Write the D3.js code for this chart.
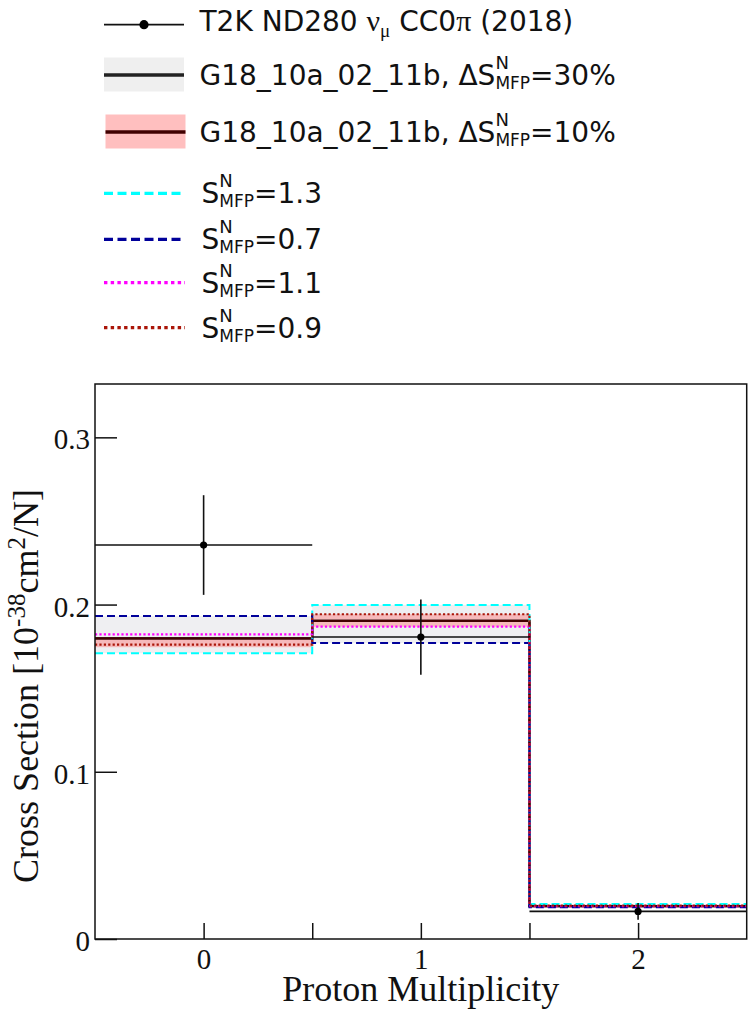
<!DOCTYPE html>
<html>
<head>
<meta charset="utf-8">
<script src="https://cdn.jsdelivr.net/npm/d3@7"></script>
<style>
  body { margin: 0; background: #fff; }
  svg { display: block; }
  text { white-space: pre; }
</style>
</head>
<body>
<div id="chart"></div>
<script>
// bins: proton multiplicity 0, 1, 2
const binEdges = [-0.5, 0.5, 1.5, 2.5];
const binCenters = [0, 1, 2];

// T2K ND280 data
const dataValues = [0.2356, 0.1806, 0.0165];
const dataErrors = [0.0298, 0.0225, 0.0050];

// GENIE G18_10a_02_11b nominal and S_MFP variations
const nominal = [0.1798, 0.1902, 0.0197];
const smfp13 = [0.1709, 0.1998, 0.0209];
const smfp07 = [0.1931, 0.1770, 0.0190];
const smfp11 = [0.1822, 0.1868, 0.0197];
const smfp09 = [0.1760, 0.1942, 0.0199];

// uncertainty bands
const band30Low = [0.1709, 0.1770, 0.0190];
const band30High = [0.1931, 0.1998, 0.0209];
const band10Low = [0.1745, 0.1868, 0.0195];
const band10High = [0.1798, 0.1942, 0.0200];

// axis ticks
const yTicks = [0, 0.1, 0.2, 0.3];
const xTicks = [0, 0.5, 1, 1.5, 2];

const W = 748, H = 1010;
const plot = { left: 95, right: 746.7, top: 384, bottom: 939 };

const svg = d3.select("#chart").append("svg")
    .attr("width", W)
    .attr("height", H);

const x = d3.scaleLinear().domain([-0.5, 2.5]).range([plot.left, plot.right]);
const y = d3.scaleLinear().domain([0, 0.3319]).range([plot.bottom, plot.top]);

// ---- bands ----
function drawBand(low, high, fill) {
    svg.append("g").selectAll("rect")
        .data(binCenters)
        .join("rect")
        .attr("x", (d, i) => x(binEdges[i]))
        .attr("width", (d, i) => x(binEdges[i + 1]) - x(binEdges[i]))
        .attr("y", (d, i) => y(high[i]))
        .attr("height", (d, i) => y(low[i]) - y(high[i]))
        .attr("fill", fill);
}
drawBand(band30Low, band30High, "#efeff2");
drawBand(band10Low, band10High, "#f6b9bb");

// ---- histogram step lines ----
function stepPoints(vals) {
    const pts = [];
    vals.forEach((v, i) => {
        pts.push([binEdges[i], v]);
        pts.push([binEdges[i + 1], v]);
    });
    return pts;
}
const line = d3.line().x(d => x(d[0])).y(d => y(d[1]));

function drawHist(vals, color, width, dash) {
    svg.append("path")
        .attr("d", line(stepPoints(vals)))
        .attr("fill", "none")
        .attr("stroke", color)
        .attr("stroke-width", width)
        .attr("stroke-dasharray", dash || null);
}
drawHist(nominal, "#111", 2.2);
drawHist(nominal, "#400000", 2.2);
drawHist(smfp13, "#00ffff", 2, "8,4");
drawHist(smfp07, "#00009a", 2, "8,4");
drawHist(smfp11, "#ff00ff", 2.2, "2.2,2.2");
drawHist(smfp09, "#aa1508", 2.2, "2.2,2.2");

// ---- data points ----
const dataG = svg.append("g").attr("stroke", "#111").attr("stroke-width", 1.6);
dataG.selectAll("line.xerr")
    .data(binCenters)
    .join("line")
    .attr("class", "xerr")
    .attr("x1", (d, i) => x(binEdges[i]))
    .attr("x2", (d, i) => x(binEdges[i + 1]))
    .attr("y1", (d, i) => y(dataValues[i]))
    .attr("y2", (d, i) => y(dataValues[i]));
dataG.selectAll("line.yerr")
    .data(binCenters)
    .join("line")
    .attr("class", "yerr")
    .attr("x1", d => x(d))
    .attr("x2", d => x(d))
    .attr("y1", (d, i) => y(dataValues[i] + dataErrors[i]))
    .attr("y2", (d, i) => y(dataValues[i] - dataErrors[i]));
svg.append("g").selectAll("circle")
    .data(binCenters)
    .join("circle")
    .attr("cx", d => x(d))
    .attr("cy", (d, i) => y(dataValues[i]))
    .attr("r", 3.6)
    .attr("fill", "#000");

// ---- axes ----
const serif = "'Liberation Serif', 'Times New Roman', serif";

const yAxis = svg.append("g")
    .attr("transform", `translate(${plot.left},0)`)
    .call(d3.axisLeft(y).tickValues(yTicks).tickSizeInner(-22).tickSizeOuter(0).tickPadding(5)
        .tickFormat(d => d === 0 ? "0" : d3.format(".1f")(d)));
yAxis.select(".domain").remove();
yAxis.selectAll("line").attr("stroke", "#111").attr("stroke-width", 1.5);
yAxis.selectAll("text")
    .attr("dy", "0.4em")
    .attr("fill", "#111")
    .style("font-family", serif)
    .style("font-size", "29px");

const xAxis = svg.append("g")
    .attr("transform", `translate(0,${plot.bottom})`)
    .call(d3.axisBottom(x).tickValues(xTicks).tickSizeInner(-16).tickSizeOuter(0).tickPadding(9)
        .tickFormat(d => Number.isInteger(d) ? String(d) : ""));
xAxis.select(".domain").remove();
xAxis.selectAll("line").attr("stroke", "#111").attr("stroke-width", 1.5);
xAxis.selectAll("text")
    .attr("fill", "#111")
    .style("font-family", serif)
    .style("font-size", "29px");

// frame
svg.append("rect")
    .attr("x", plot.left)
    .attr("y", plot.top)
    .attr("width", plot.right - plot.left)
    .attr("height", plot.bottom - plot.top)
    .attr("fill", "none")
    .attr("stroke", "#111")
    .attr("stroke-width", 1.5);

// axis titles
svg.append("text")
    .attr("x", (plot.left + plot.right) / 2 + 0)
    .attr("y", 1001)
    .attr("text-anchor", "middle")
    .style("font-family", serif)
    .style("font-size", "36px")
    .attr("fill", "#111")
    .text("Proton Multiplicity");

const yTitle = svg.append("text")
    .attr("transform", "translate(38,686) rotate(-90)")
    .attr("text-anchor", "middle")
    .style("font-family", serif)
    .style("font-size", "36px")
    .attr("fill", "#111");
yTitle.append("tspan").text("Cross Section [10");
yTitle.append("tspan").attr("dy", -13).style("font-size", "25px").text("-38");
yTitle.append("tspan").attr("dy", 13).text("cm");
yTitle.append("tspan").attr("dy", -13).style("font-size", "25px").text("2");
yTitle.append("tspan").attr("dy", 13).text("/N]");

// ---- legend ----
const sans = "'DejaVu Sans', sans-serif";
const legendFont = 28;

// draws text pieces one after another; {sup, sub} pieces are stacked
function richText(x0, y0, parts) {
    const t = svg.append("text")
        .style("font-family", sans)
        .style("font-size", legendFont + "px")
        .attr("fill", "#111");
    let cx = x0;
    function add(str, size, off, family) {
        const ts = t.append("tspan")
            .attr("x", cx)
            .attr("y", y0 + off)
            .style("font-size", size + "px")
            .style("font-family", family || sans)
            .text(str);
        return ts.node().getComputedTextLength();
    }
    parts.forEach(p => {
        if (p.stack) {
            const w1 = add(p.stack[0], 18, -16.5);
            const w2 = add(p.stack[1], 17, 3.7);
            cx += Math.max(w1, w2);
        } else if (p.sub) {
            cx += add(p.t, 19, 6, p.serif ? serif : sans);
        } else {
            cx += add(p.t, p.serif ? 30 : legendFont, 0, p.serif ? serif : sans);
        }
    });
}

const legendX1 = 104, legendX2 = 184;

// row 1: data
svg.append("line")
    .attr("x1", legendX1).attr("x2", legendX2)
    .attr("y1", 24.7).attr("y2", 24.7)
    .attr("stroke", "#111").attr("stroke-width", 1.8);
svg.append("circle").attr("cx", 144).attr("cy", 24.7).attr("r", 4.6).attr("fill", "#000");
richText(199.5, 31, [
    { t: "T2K ND280 " }, { t: "ν", serif: true }, { t: "μ", serif: true, sub: true },
    { t: " CC0" }, { t: "π", serif: true }, { t: " (2018)" }
]);

// rows 2-3: bands
const bandLabels = ["30%", "10%"];
const bandFills = ["#efefef", "#ffbfbf"];
const bandLines = ["#222", "#400000"];
const bandRowY = [75, 132];
bandLabels.forEach((lab, i) => {
    svg.append("rect")
        .attr("x", legendX1 + i * 1.5).attr("y", bandRowY[i] - 17.5)
        .attr("width", 80).attr("height", 34)
        .attr("fill", bandFills[i]);
    svg.append("line")
        .attr("x1", legendX1 + i * 1.5).attr("x2", legendX2 + i * 1.5)
        .attr("y1", bandRowY[i]).attr("y2", bandRowY[i])
        .attr("stroke", bandLines[i]).attr("stroke-width", 3.5);
    richText(199.5, bandRowY[i] + 10, [
        { t: "G18_10a_02_11b, ΔS" }, { stack: ["N", "MFP"] }, { t: "=" + lab }
    ]);
});

// rows 4-7: S_MFP variations
const varLabels = ["1.3", "0.7", "1.1", "0.9"];
const varColors = ["#00ffff", "#00009a", "#ff00ff", "#aa1508"];
const varDash = ["9,4.5", "9,4.5", "3.4,3.3", "3.4,3.3"];
const varRowY = [193.3, 239.3, 282.7, 327.7];
const varBase = [203.3, 249.3, 293.3, 338.3];
varLabels.forEach((lab, i) => {
    svg.append("line")
        .attr("x1", legendX1).attr("x2", legendX2 + 1)
        .attr("y1", varRowY[i]).attr("y2", varRowY[i])
        .attr("stroke", varColors[i])
        .attr("stroke-width", 3.2)
        .attr("stroke-dasharray", varDash[i]);
    richText(201.5, varBase[i], [
        { t: "S" }, { stack: ["N", "MFP"] }, { t: "=" + lab }
    ]);
});
</script>
</body>
</html>
